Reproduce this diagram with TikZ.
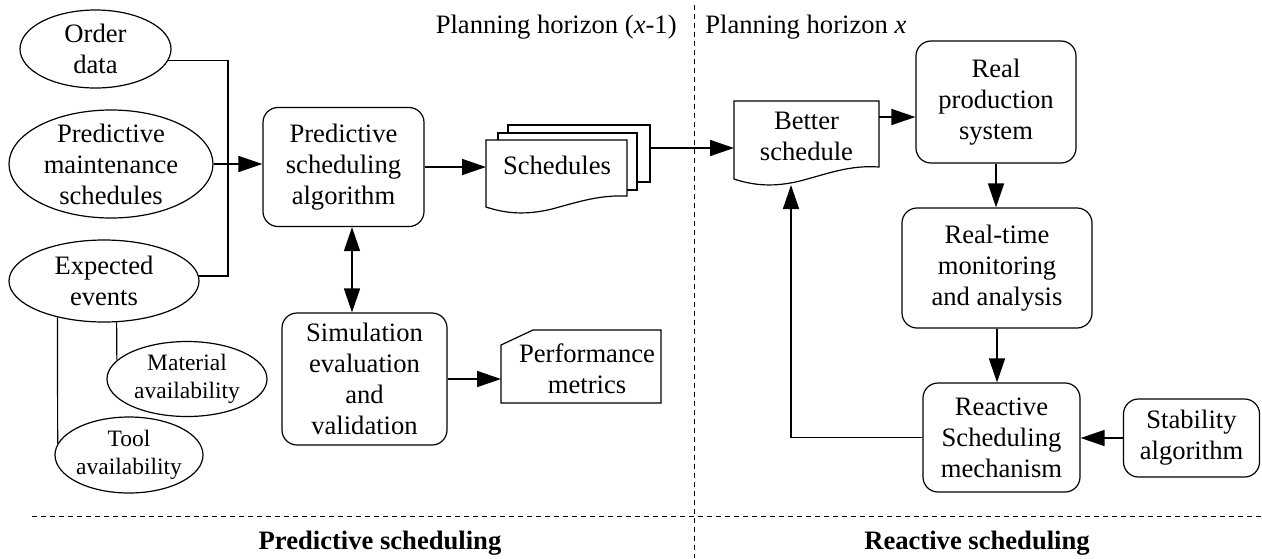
\documentclass[tikz,border=0pt]{standalone}
\usepackage{fontspec}
\setmainfont{LiberationSerif}[Extension=.ttf, UprightFont=*-Regular, BoldFont=*-Bold, ItalicFont=*-Italic, BoldItalicFont=*-BoldItalic]
\usetikzlibrary{shapes.geometric,arrows.meta,calc}

\begin{document}
\begin{tikzpicture}[x=0.5pt,y=-0.5pt,
  every node/.style={font=\rmfamily\fontsize{13.3}{15.5}\selectfont, align=center, inner sep=0pt},
  small/.style={font=\rmfamily\fontsize{11.75}{14}\selectfont},
  heading/.style={font=\rmfamily\fontsize{13.3}{15.5}\selectfont\bfseries},
  oval/.style={ellipse, draw, line width=0.6pt},
  rbox/.style={rectangle, rounded corners=7.5pt, draw, line width=0.6pt},
  link/.style={line width=0.6pt},
  flow/.style={line width=0.8pt, -{Triangle[length=12pt,width=8pt]}},
  both/.style={line width=0.8pt, {Triangle[length=12pt,width=8pt]}-{Triangle[length=12pt,width=8pt]}},
  sep/.style={dash pattern=on 2.5pt off 2pt, line width=0.5pt}
]
\useasboundingbox (0,0) rectangle (1262,558);

% ---- input ellipses ----
\node[oval, minimum width=75.5pt, minimum height=39pt] (order) at (95.5,49) {};
\node (orderT) at (order) {Order\\data};
\node[oval, minimum width=102pt, minimum height=54pt] (maint) at (111,164) {};
\node (maintT) at (maint) {Predictive\\maintenance\\schedules};
\node[oval, minimum width=95pt, minimum height=41pt] (expect) at (104,281) {};
\node (expectT) at (expect) {Expected\\events};
\node[oval, minimum width=80pt, minimum height=37.5pt] (material) at (187,379) {};
\node[small] (materialT) at (material) {Material\\availability};
\node[oval, minimum width=74pt, minimum height=38pt] (tool) at (129,455) {};
\node[small] (toolT) at (tool) {Tool\\availability};

% ---- process boxes ----
\node[rbox, minimum width=80.5pt, minimum height=59.5pt] (psa) at (343.5,167) {Predictive\\scheduling\\algorithm};
\node[rbox, minimum width=82.5pt, minimum height=66pt] (sim) at (364.5,379) {Simulation\\evaluation\\and\\validation};
\node[rbox, minimum width=80pt, minimum height=61pt] (real) at (996,102) {Real\\production\\system};
\node[rbox, minimum width=95pt, minimum height=60pt] (rtm) at (997,268) {Real-time\\monitoring\\and analysis};
\node[rbox, minimum width=78.5pt, minimum height=54.5pt] (react) at (1001.5,437.5) {Reactive\\Scheduling\\mechanism};
\node[rbox, minimum width=68pt, minimum height=39pt] (stab) at (1191.5,438) {Stability\\algorithm};

% ---- stacked documents: schedules ----
\draw[link, fill=white] (508,125) rectangle (650,182);
\draw[link, fill=white] (498,133) rectangle (637,190);
\draw[link, fill=white] (486,140) -- (627,140) -- (627,196)
  .. controls (600,195) and (581,201) .. (552,209)
  .. controls (527,215) and (507,214) .. (486,207) -- cycle;
\node (sched) at (557,165) {Schedules};

% ---- single document: better schedule ----
\draw[link, fill=white] (734,101) -- (879,101) -- (879,167)
  .. controls (850,165) and (830,173) .. (800,181)
  .. controls (775,187) and (755,186) .. (734,179) -- cycle;
\node (better) at (806.5,136) {Better\\schedule};

% ---- card: performance metrics ----
\draw[link] (501,345) -- (533,330) -- (661,330) -- (661,403) -- (501,403) -- cycle;
\node (perf) at (587,369) {Performance\\metrics};

% ---- connection points ----
\coordinate (bus) at (228,160);
\coordinate (vlink) at (352,0);
\coordinate (schedin) at (486,169);
\coordinate (schedout) at (650,148);
\coordinate (betterin) at (734,148);
\coordinate (betterout) at (879,117);
\coordinate (betterbot) at (791,185);
\coordinate (perfin) at (501,379);

% ---- connectors ----
\draw[link] (order.-9.5) -| (bus) |- (expect.3);
\draw[link] (expect.218) -- (tool.171);
\draw[link] (expect.287.8) -- (material.165.4);
\draw[flow] (maint.east) -- (maint.east -| psa.west);
\draw[flow] (psa.east) -- (psa.east -| schedin);
\draw[both] (psa.south -| vlink) -- (sim.north -| vlink);
\draw[flow] (sim.east) -- (perfin);
\draw[flow] (schedout) -- (betterin);
\draw[flow] (betterout) -- (betterout -| real.west);
\draw[flow] (real.south) -- (real.south |- rtm.north);
\draw[flow] (rtm.south) -- (rtm.south |- react.north);
\draw[flow] (stab.west) -- (stab.west -| react.east);
\draw[flow] (react.west) -| (betterbot);

% ---- horizon separators and labels ----
\coordinate (vtop) at (694,5);
\coordinate (vbot) at (694,558);
\coordinate (hleft) at (32,516);
\coordinate (hright) at (1262,516);
\draw[sep] (vtop) -- (vbot);
\draw[sep] (hleft) -- (hright);
\node[anchor=east] (hprev) at (677,27) {Planning horizon (\textit{x}-1)};
\node[anchor=west] (hcur) at (705,27) {Planning horizon \textit{x}};
\node[heading] (predlbl) at (380,543) {Predictive scheduling};
\node[heading] (reactlbl) at (977,543) {Reactive scheduling};
\end{tikzpicture}
\end{document}
